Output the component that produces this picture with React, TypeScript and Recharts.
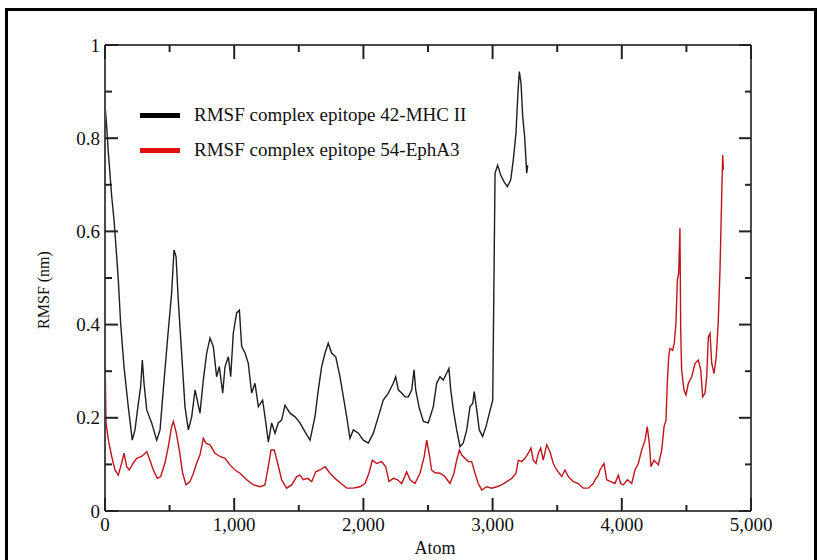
import React from "react";
import { LineChart, Line, XAxis, YAxis } from "recharts";

// RMSF per atom, complex epitope 42-MHC II (black)
const complex42Atoms = [
  0, 13, 26, 52, 70, 85, 103, 121, 147, 180, 211, 232, 258, 276, 289, 302, 323, 361, 400, 426,
  451, 490, 516, 534, 550, 567, 593, 619, 645, 671, 697, 714, 735, 761, 787, 813, 838, 864, 885, 911,
  929, 955, 973, 993, 1019, 1040, 1058, 1084, 1109, 1135, 1161, 1187, 1220, 1245, 1264, 1290, 1316, 1341, 1367, 1393,
  1432, 1471, 1509, 1548, 1587, 1625, 1651, 1677, 1703, 1728, 1754, 1786, 1819, 1845, 1871, 1896, 1922, 1961, 1999, 2038,
  2077, 2115, 2154, 2193, 2231, 2250, 2270, 2296, 2322, 2348, 2374, 2392, 2405, 2430, 2464, 2502, 2541, 2567, 2593, 2618,
  2645, 2662, 2676, 2696, 2722, 2748, 2773, 2800, 2825, 2846, 2858, 2877, 2897, 2923, 2949, 2975, 3001, 3011, 3019, 3039,
  3063, 3088, 3114, 3140, 3160, 3181, 3196, 3207, 3220, 3233, 3248, 3264, 3272,
];
const complex42Rmsf = [
  0.871, 0.825, 0.768, 0.675, 0.624, 0.567, 0.496, 0.403, 0.31, 0.224, 0.152, 0.174, 0.231, 0.267, 0.324, 0.274, 0.217, 0.189, 0.152, 0.174,
  0.26, 0.388, 0.468, 0.56, 0.546, 0.453, 0.339, 0.224, 0.174, 0.202, 0.26, 0.238, 0.21, 0.281, 0.339, 0.371, 0.353, 0.288, 0.31, 0.253,
  0.31, 0.331, 0.288, 0.382, 0.425, 0.431, 0.353, 0.339, 0.317, 0.253, 0.274, 0.224, 0.238, 0.189, 0.148, 0.189, 0.167, 0.189, 0.195, 0.227,
  0.21, 0.202, 0.189, 0.17, 0.152, 0.202, 0.26, 0.31, 0.339, 0.36, 0.339, 0.331, 0.288, 0.245, 0.202, 0.156, 0.174, 0.167, 0.152, 0.146,
  0.167, 0.202, 0.238, 0.253, 0.274, 0.288, 0.26, 0.253, 0.245, 0.245, 0.26, 0.303, 0.26, 0.224, 0.192, 0.189, 0.224, 0.274, 0.288, 0.281,
  0.296, 0.306, 0.26, 0.217, 0.174, 0.138, 0.146, 0.174, 0.224, 0.231, 0.256, 0.217, 0.174, 0.16, 0.181, 0.21, 0.238, 0.51, 0.725, 0.742,
  0.721, 0.707, 0.696, 0.71, 0.753, 0.811, 0.897, 0.943, 0.918, 0.846, 0.803, 0.725, 0.742,
];

// RMSF per atom, complex epitope 54-EphA3 (red)
const complex54Atoms = [
  0, 8, 26, 52, 77, 103, 129, 147, 168, 188, 219, 245, 284, 323, 348, 374, 405, 431, 464, 490,
  516, 529, 550, 575, 601, 627, 658, 684, 710, 735, 761, 782, 813, 851, 890, 929, 967, 1006, 1045, 1097,
  1148, 1200, 1238, 1264, 1285, 1310, 1337, 1367, 1406, 1445, 1484, 1509, 1535, 1569, 1600, 1631, 1664, 1703, 1742, 1780,
  1827, 1871, 1922, 1974, 2012, 2043, 2069, 2103, 2141, 2173, 2198, 2231, 2265, 2296, 2335, 2361, 2399, 2438, 2471, 2490,
  2508, 2528, 2554, 2593, 2631, 2670, 2701, 2722, 2743, 2761, 2786, 2812, 2838, 2864, 2889, 2916, 2954, 2993, 3032, 3070,
  3109, 3148, 3181, 3199, 3225, 3251, 3276, 3297, 3315, 3336, 3354, 3372, 3392, 3419, 3444, 3470, 3496, 3535, 3560, 3586,
  3625, 3663, 3702, 3741, 3779, 3793, 3818, 3831, 3862, 3883, 3914, 3947, 3973, 3991, 4012, 4043, 4077, 4102, 4128, 4154,
  4180, 4197, 4213, 4226, 4249, 4283, 4309, 4327, 4342, 4352, 4363, 4373, 4394, 4406, 4419, 4430, 4440, 4450, 4456, 4463,
  4481, 4497, 4515, 4541, 4567, 4592, 4611, 4626, 4644, 4657, 4670, 4683, 4696, 4714, 4731, 4746, 4760, 4773, 4781, 4786,
];
const complex54Rmsf = [
  0.339, 0.189, 0.152, 0.117, 0.088, 0.077, 0.103, 0.124, 0.095, 0.088, 0.103, 0.113, 0.117, 0.127, 0.109, 0.088, 0.07, 0.074, 0.103, 0.138,
  0.181, 0.192, 0.17, 0.131, 0.081, 0.056, 0.063, 0.081, 0.103, 0.12, 0.156, 0.145, 0.142, 0.124, 0.117, 0.113, 0.099, 0.088, 0.081, 0.067,
  0.056, 0.052, 0.056, 0.095, 0.131, 0.131, 0.102, 0.067, 0.049, 0.056, 0.074, 0.077, 0.067, 0.07, 0.063, 0.084, 0.088, 0.095, 0.081, 0.07,
  0.059, 0.049, 0.049, 0.052, 0.059, 0.081, 0.109, 0.102, 0.106, 0.095, 0.063, 0.07, 0.067, 0.059, 0.084, 0.067, 0.059, 0.081, 0.117, 0.152,
  0.124, 0.088, 0.082, 0.081, 0.074, 0.059, 0.081, 0.109, 0.131, 0.12, 0.113, 0.106, 0.106, 0.081, 0.059, 0.045, 0.052, 0.049, 0.052, 0.056,
  0.063, 0.07, 0.081, 0.109, 0.106, 0.113, 0.124, 0.135, 0.109, 0.102, 0.124, 0.135, 0.109, 0.142, 0.127, 0.102, 0.088, 0.074, 0.088, 0.074,
  0.063, 0.059, 0.049, 0.049, 0.059, 0.067, 0.077, 0.088, 0.102, 0.067, 0.063, 0.059, 0.077, 0.059, 0.056, 0.067, 0.059, 0.088, 0.102, 0.131,
  0.152, 0.181, 0.145, 0.095, 0.109, 0.099, 0.131, 0.181, 0.195, 0.274, 0.331, 0.349, 0.345, 0.36, 0.403, 0.496, 0.51, 0.607, 0.388, 0.303,
  0.26, 0.249, 0.274, 0.288, 0.317, 0.324, 0.303, 0.245, 0.253, 0.288, 0.374, 0.381, 0.317, 0.295, 0.331, 0.403, 0.517, 0.674, 0.764, 0.732,
];

const atomTicks = [0, 500, 1000, 1500, 2000, 2500, 3000, 3500, 4000, 4500, 5000];
const rmsfTicks = [0, 0.1, 0.2, 0.3, 0.4, 0.5, 0.6, 0.7, 0.8, 0.9, 1];
const seriesNames = ["RMSF complex epitope 42-MHC II", "RMSF complex epitope 54-EphA3"];
const seriesColors = ["#1e1e1e", "#c0141c"];
const legendColors = ["#000000", "#e01010"];

const complex42 = complex42Atoms.map((atom, i) => ({ atom, rmsf: complex42Rmsf[i] }));
const complex54 = complex54Atoms.map((atom, i) => ({ atom, rmsf: complex54Rmsf[i] }));

const SERIF = '"Liberation Serif", "Times New Roman", serif';
const TICK = "#222";

// ticks point into the plot, long on labelled values
const isMajorAtom = (v: number) => v % 1000 === 0;
const isMajorRmsf = (v: number) => Math.round(v * 10) % 2 === 0;

const BottomTick = (props: any) => {
  const { x, y, payload } = props;
  const major = isMajorAtom(payload.value);
  return (
    <g>
      <line x1={x} y1={y} x2={x} y2={y - (major ? 13 : 6)} stroke={TICK} strokeWidth={2} />
      {major && (
        <text x={x} y={y + 13} textAnchor="middle" dominantBaseline="central" fontFamily={SERIF} fontSize={19} fill="#111">
          {payload.value.toLocaleString("en-US")}
        </text>
      )}
    </g>
  );
};

const TopTick = (props: any) => {
  const { x, y, payload } = props;
  const major = isMajorAtom(payload.value);
  return <line x1={x} y1={y} x2={x} y2={y + (major ? 14 : 7)} stroke={TICK} strokeWidth={2} />;
};

const LeftTick = (props: any) => {
  const { x, y, payload } = props;
  const major = isMajorRmsf(payload.value);
  return (
    <g>
      <line x1={x} y1={y} x2={x + (major ? 13 : 7)} y2={y} stroke={TICK} strokeWidth={2} />
      {major && (
        <text x={x - 5} y={y} textAnchor="end" dominantBaseline="central" fontFamily={SERIF} fontSize={19} fill="#111">
          {String(Math.round(payload.value * 10) / 10)}
        </text>
      )}
    </g>
  );
};

const RightTick = (props: any) => {
  const { x, y, payload } = props;
  const major = isMajorRmsf(payload.value);
  return <line x1={x} y1={y} x2={x - (major ? 12 : 6)} y2={y} stroke={TICK} strokeWidth={2} />;
};

const axisLine = { stroke: "#4a4a4a", strokeWidth: 2 };

export default function App() {
  return (
    <div style={{ position: "fixed", left: 0, top: 0, width: 817, height: 560, background: "#fff", overflow: "hidden" }}>
      {/* outer frame */}
      <div
        style={{
          position: "absolute",
          left: 5,
          top: 8,
          width: 812,
          height: 600,
          border: "3px solid #000",
          boxSizing: "border-box",
        }}
      />

      <LineChart width={817} height={560} margin={{ top: 44, right: 65, bottom: 48, left: 104 }}>
        <XAxis
          xAxisId="bottom"
          dataKey="atom"
          type="number"
          domain={[0, 5000]}
          ticks={atomTicks}
          interval={0}
          height={1}
          tickSize={0}
          tickMargin={0}
          tickLine={false}
          axisLine={axisLine}
          tick={<BottomTick />}
          allowDataOverflow
        />
        <XAxis
          xAxisId="top"
          orientation="top"
          dataKey="atom"
          type="number"
          domain={[0, 5000]}
          ticks={atomTicks}
          interval={0}
          height={1}
          tickSize={0}
          tickMargin={0}
          tickLine={false}
          axisLine={axisLine}
          tick={<TopTick />}
          allowDataOverflow
        />
        <YAxis
          yAxisId="left"
          type="number"
          domain={[0, 1]}
          ticks={rmsfTicks}
          interval={0}
          width={1}
          tickSize={0}
          tickMargin={0}
          tickLine={false}
          axisLine={axisLine}
          tick={<LeftTick />}
          allowDataOverflow
        />
        <YAxis
          yAxisId="right"
          orientation="right"
          type="number"
          domain={[0, 1]}
          ticks={rmsfTicks}
          interval={0}
          width={1}
          tickSize={0}
          tickMargin={0}
          tickLine={false}
          axisLine={axisLine}
          tick={<RightTick />}
          allowDataOverflow
        />
        <Line
          xAxisId="bottom"
          yAxisId="left"
          data={complex54}
          dataKey="rmsf"
          name={seriesNames[1]}
          type="linear"
          stroke={seriesColors[1]}
          strokeWidth={1.4}
          dot={false}
          isAnimationActive={false}
        />
        <Line
          xAxisId="bottom"
          yAxisId="left"
          data={complex42}
          dataKey="rmsf"
          name={seriesNames[0]}
          type="linear"
          stroke={seriesColors[0]}
          strokeWidth={1.4}
          dot={false}
          isAnimationActive={false}
        />
      </LineChart>

      {/* legend */}
      {seriesNames.map((name, i) => (
        <div
          key={name}
          style={{ position: "absolute", left: 140, top: 103 + i * 35, height: 24, display: "flex", alignItems: "center" }}
        >
          <div style={{ width: 40, height: 5, background: legendColors[i] }} />
          <span style={{ marginLeft: 14, fontFamily: SERIF, fontSize: 19, color: "#111", whiteSpace: "nowrap" }}>{name}</span>
        </div>
      ))}

      {/* axis titles */}
      <div
        style={{
          position: "absolute",
          left: 435,
          top: 548,
          transform: "translate(-50%, -50%)",
          fontFamily: SERIF,
          fontSize: 18,
          color: "#111",
          whiteSpace: "nowrap",
        }}
      >
        Atom
      </div>
      <div
        style={{
          position: "absolute",
          left: 44,
          top: 290,
          transform: "translate(-50%, -50%) rotate(-90deg)",
          fontFamily: SERIF,
          fontSize: 16,
          color: "#111",
          whiteSpace: "nowrap",
        }}
      >
        RMSF (nm)
      </div>
    </div>
  );
}
